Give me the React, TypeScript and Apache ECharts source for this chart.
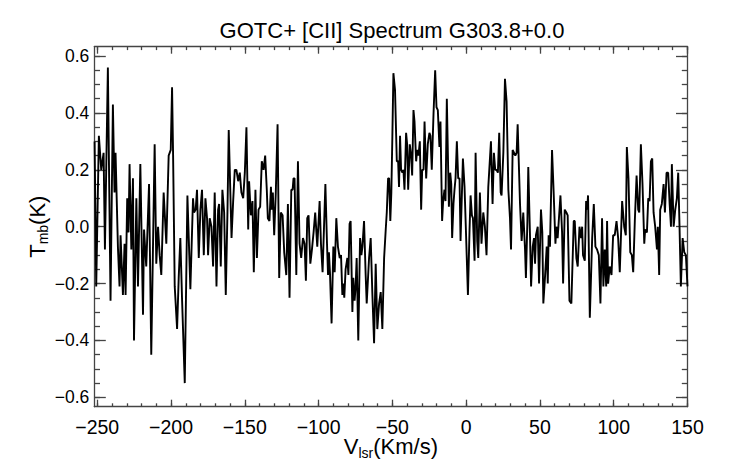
import React, { useEffect, useRef } from "react";
import * as echarts from "echarts";

const titleText = "GOTC+ [CII] Spectrum G303.8+0.0";

// LSR velocity (km/s) of each plotted channel vertex
const velocity = [
  -251.8, -250.7, -248.9, -247.3, -245.7, -244.8, -242.8, -241.0, -239.4, -238.3,
  -237.6, -236.0, -234.9, -234.2, -232.6, -231.5, -230.8, -229.7, -228.8, -228.1,
  -226.9, -225.8, -225.1, -223.5, -222.4, -220.8, -219.0, -218.3, -216.8, -214.9,
  -213.4, -211.1, -210.0, -208.8, -207.7, -206.6, -205.0, -203.2, -201.6, -200.2,
  -199.3, -198.6, -197.5, -195.9, -194.8, -193.7, -192.5, -190.7,
  -188.9, -186.9, -185.1, -184.4, -183.3, -182.4, -181.2, -180.1, -179.0, -177.8,
  -176.7, -175.6, -174.9, -173.8, -172.6, -171.5, -170.4, -169.2, -168.1, -167.4,
  -166.3, -165.2, -164.0, -162.9, -161.8, -160.9, -159.0, -157.9, -156.8, -155.7,
  -154.5, -153.4, -152.3, -151.1, -150.0, -148.9, -147.7, -147.1, -145.9, -144.8,
  -143.9, -142.8, -141.8,
  -140.7, -139.6, -138.5, -137.3, -136.2, -135.1, -134.4, -133.3, -132.3, -131.7,
  -131.0, -130.1, -129.0, -127.8, -126.7, -125.6, -124.4, -123.3, -121.9, -120.8,
  -119.7, -118.5, -117.6, -117.0, -116.3, -115.1, -114.0, -112.9, -111.8, -110.6,
  -109.5, -108.6, -107.7, -106.8, -105.6, -104.5, -103.4, -102.3, -100.9, -99.3,
  -98.4, -97.3, -95.4, -94.3, -93.6, -93.0,
  -92.3, -91.2, -90.0, -89.1, -88.0, -86.9, -85.7, -84.8, -83.9, -83.2,
  -82.6, -81.7, -80.5, -79.8, -79.0, -78.3, -77.1, -76.5, -75.6, -74.9,
  -74.2, -73.1, -71.9, -71.0, -70.3, -69.2, -68.1, -67.4, -65.8, -64.7,
  -63.6, -62.4, -61.3, -60.2, -59.0, -57.9, -56.8, -55.6, -54.5, -53.8,
  -52.9, -52.2, -51.4, -50.7, -50.0, -49.3, -48.2, -47.0, -46.1, -45.5,
  -44.8, -44.1, -43.2, -42.5,
  -41.8, -40.7, -40.0, -39.3, -38.2, -37.3, -36.6, -35.7, -35.0, -33.9,
  -33.2, -32.3, -31.4, -30.5, -29.8, -28.9, -28.2, -27.1, -26.0, -24.9,
  -24.2, -23.3, -22.1, -21.0, -20.1, -19.2, -18.1, -17.4, -16.3, -15.6,
  -14.7, -14.0, -13.1, -11.7, -10.8, -10.1, -9.5, -8.6, -7.9, -7.2,
  -6.3, -5.4, -4.5, -3.8, -2.2, -1.1, 0.0, 1.2, 2.3, 3.0,
  3.9, 4.6, 5.7, 6.4,
  7.5, 8.2, 9.3, 10.4, 11.6, 12.7, 13.8, 15.0, 16.8, 17.9,
  18.8, 19.7, 20.6, 21.5, 22.4, 23.4, 24.0, 25.2, 26.3, 27.4,
  28.6, 29.7, 30.4, 31.5, 32.4, 33.3, 34.2, 34.9, 36.5, 37.6,
  38.7, 39.9, 40.5, 41.5, 42.1, 43.3, 44.0, 45.1, 46.0, 46.7,
  47.3, 48.5, 49.4, 50.7, 51.6, 52.3, 53.4, 54.6, 55.3,
  55.9, 56.8, 58.2, 59.3, 60.5, 61.1, 62.0, 63.9, 65.0, 65.7,
  66.8, 67.9, 68.8, 70.0, 71.3, 72.9, 73.6, 74.7, 75.6, 76.8,
  77.9, 78.6, 79.2, 80.4, 81.3, 82.0, 82.6, 83.8, 85.4, 86.5,
  87.6, 88.7, 89.9, 91.0, 92.1, 93.0, 93.9, 94.9, 95.5, 96.2,
  97.3, 98.5, 99.6, 100.7, 101.9, 103.0, 104.1,
  105.7, 107.1, 108.2, 108.9, 110.0, 111.2, 112.3, 113.2, 114.3, 115.5,
  116.6, 117.3, 118.4, 119.5, 120.7, 121.3, 122.5, 123.4, 124.3, 125.2,
  126.1, 127.0, 128.1, 129.3, 129.9, 130.8, 131.5, 132.6, 133.8, 134.7,
  135.8, 136.9, 137.9, 138.8, 139.4, 140.6, 141.7, 142.8, 143.7, 144.6,
  145.5, 146.7, 147.8, 148.9, 150.0,
];

// Main-beam temperature (K)
const tmb = [
  0.30, -0.21, 0.32, 0.20, 0.26, -0.08, 0.56, -0.26, 0.43, 0.12,
  0.26, -0.07, -0.21, -0.03, -0.24, -0.06, -0.24, 0.10, -0.02, 0.22,
  -0.08, 0.17, -0.40, 0.10, -0.21, 0.22, -0.31, -0.01, -0.14, 0.15,
  -0.45, 0.29, -0.13, 0.00, -0.10, -0.17, 0.12, -0.06, 0.25, 0.27,
  0.49, 0.25, -0.21, -0.36, -0.18, -0.04, -0.26, -0.55,
  0.11, -0.22, 0.10, 0.05, 0.06, 0.13, -0.11, 0.06, 0.13, -0.10,
  0.10, 0.03, -0.10, 0.03, 0.00, -0.14, 0.12, -0.21, 0.06, 0.08,
  -0.14, 0.13, 0.05, -0.24, 0.04, 0.34, -0.04, 0.09, 0.20, 0.20,
  0.16, 0.19, 0.12, 0.10, 0.19, 0.35, -0.01, 0.16, 0.04, 0.09,
  -0.16, 0.13, -0.11,
  0.06, 0.07, 0.23, 0.20, 0.25, 0.13, 0.03, 0.02, 0.14, 0.06,
  0.12, -0.03, 0.12, 0.36, -0.18, 0.05, 0.04, -0.09, -0.17, 0.08,
  -0.25, 0.13, 0.13, 0.17, 0.17, -0.17, 0.23, -0.06, -0.11, -0.04,
  -0.06, -0.19, 0.03, 0.04, -0.13, -0.08, -0.02, 0.05, -0.07, 0.09,
  -0.06, -0.16, 0.15, -0.06, -0.17, -0.09,
  -0.16, -0.34, -0.07, -0.16, 0.03, -0.07, -0.11, -0.10, -0.24, -0.20,
  -0.25, -0.15, -0.11, -0.17, 0.01, 0.02, -0.30, -0.18, -0.26, -0.21,
  -0.11, -0.40, -0.04, -0.10, -0.07, 0.02, -0.17, -0.27, -0.11, -0.04,
  -0.23, -0.41, -0.13, -0.36, -0.27, -0.23, -0.36, -0.11, -0.01, 0.05,
  0.17, 0.17, 0.02, 0.12, 0.32, 0.54, 0.48, 0.23, 0.23, 0.14,
  0.32, 0.20, 0.19, 0.20,
  0.13, 0.33, 0.29, 0.13, 0.29, 0.25, 0.18, 0.41, 0.37, 0.23,
  0.27, 0.25, 0.30, 0.06, 0.20, 0.20, 0.37, 0.17, 0.29, 0.33,
  0.32, 0.20, 0.40, 0.55, 0.42, 0.41, 0.28, 0.37, 0.02, 0.09,
  0.13, 0.09, 0.45, 0.07, 0.19, 0.15, -0.04, 0.08, 0.13, 0.17,
  0.30, 0.17, 0.17, -0.05, 0.24, 0.14, -0.04, -0.24, -0.01, 0.11,
  0.04, 0.03, -0.12, 0.26,
  -0.05, -0.11, 0.12, -0.06, 0.05, 0.00, -0.10, 0.14, 0.30, 0.08,
  0.26, 0.20, 0.20, 0.19, 0.33, 0.12, 0.11, 0.26, 0.52, 0.44,
  0.13, 0.03, -0.08, 0.27, 0.26, 0.25, 0.26, 0.36, 0.08, -0.05,
  0.05, -0.08, -0.18, 0.02, 0.21, -0.04, -0.21, -0.07, -0.04, -0.13,
  -0.03, 0.00, -0.20, 0.06, -0.02, -0.27, -0.18, -0.07, -0.20,
  -0.03, -0.07, 0.27, 0.12, -0.06, 0.00, -0.04, 0.11, -0.02, -0.20,
  0.06, 0.05, 0.04, -0.26, -0.27, 0.02, 0.02, -0.11, -0.14, 0.00,
  -0.04, 0.00, -0.10, -0.12, 0.09, 0.06, 0.11, -0.32, -0.04, 0.08,
  -0.07, -0.08, -0.10, -0.27, 0.03, -0.21, -0.08, -0.21, 0.02, -0.20,
  -0.14, -0.17, -0.03, -0.03, 0.02, -0.04, -0.16,
  0.09, 0.00, -0.03, 0.28, 0.17, -0.09, -0.10, -0.16, 0.02, 0.18,
  0.06, 0.05, 0.29, 0.15, -0.06, -0.01, -0.02, 0.10, 0.09, 0.23,
  0.24, 0.05, 0.00, -0.08, 0.00, -0.17, 0.06, 0.08, 0.15, 0.05,
  0.19, 0.19, 0.08, 0.00, 0.22, 0.00, 0.06, 0.10, 0.19, 0.00,
  -0.21, -0.04, -0.09, -0.10, -0.21,
];

const xMajorTicks = [-250, -200, -150, -100, -50, 0, 50, 100, 150];
const xMinorTicks = [
  -250, -240, -230, -220, -210, -200, -190, -180, -170, -160,
  -150, -140, -130, -120, -110, -100, -90, -80, -70, -60,
  -50, -40, -30, -20, -10, 0, 10, 20, 30, 40,
  50, 60, 70, 80, 90, 100, 110, 120, 130, 140, 150,
];
const yMajorTicks = [-0.6, -0.4, -0.2, 0, 0.2, 0.4, 0.6];
const yMinorTicks = [
  -0.6, -0.55, -0.5, -0.45, -0.4, -0.35, -0.3, -0.25, -0.2, -0.15, -0.1, -0.05,
  0, 0.05, 0.1, 0.15, 0.2, 0.25, 0.3, 0.35, 0.4, 0.45, 0.5, 0.55, 0.6,
];

const X_MIN = -252;
const X_MAX = 150;
const Y_MIN = -0.633;
const Y_MAX = 0.633;

const FONT = "'Liberation Sans', Arial, Helvetica, sans-serif";
const AXIS_COLOR = "#444";

const minus = (s: string) => s.replace("-", "\u2212");

const nameRich = {
  m: { fontSize: 22, fontFamily: FONT, color: "#000", lineHeight: 24, verticalAlign: "top" },
  s: { fontSize: 14, fontFamily: FONT, color: "#000", lineHeight: 15, padding: [11, 0, 0, 0], verticalAlign: "bottom" },
};

export default function App() {
  const ref = useRef<HTMLDivElement>(null);

  useEffect(() => {
    if (!ref.current) return;
    const chart = echarts.init(ref.current, undefined, { renderer: "svg" });
    const n = Math.min(velocity.length, tmb.length);
    const data: number[][] = [];
    for (let i = 0; i < n; i++) data.push([velocity[i], tmb[i]]);

    const lineStyle = { color: AXIS_COLOR, width: 1.3 };
    const hiddenX = {
      type: "value",
      min: X_MIN,
      max: X_MAX,
      splitLine: { show: false },
      axisLabel: { show: false },
      axisLine: { show: false, onZero: false },
    };
    const hiddenY = {
      type: "value",
      min: Y_MIN,
      max: Y_MAX,
      splitLine: { show: false },
      axisLabel: { show: false },
      axisLine: { show: false, onZero: false },
    };

    const option: any = {
      animation: false,
      backgroundColor: "#fff",
      grid: {
        left: 94.3,
        right: 54.5,
        top: 46.7,
        bottom: 57.3,
        containLabel: false,
        outerBoundsMode: "none",
      },
      graphic: [
        {
          type: "text",
          x: 392,
          y: 30.5,
          style: {
            text: titleText,
            fill: "#000",
            font: `22px ${FONT}`,
            align: "center",
            verticalAlign: "middle",
          },
        },
      ],
      xAxis: [
        {
          type: "value",
          min: X_MIN,
          max: X_MAX,
          position: "bottom",
          splitLine: { show: false },
          axisLine: { show: true, onZero: false, lineStyle },
          axisTick: { show: true, inside: true, length: 7, customValues: xMajorTicks, lineStyle },
          axisLabel: {
            show: true,
            customValues: xMajorTicks,
            formatter: (v: number) => minus(String(Math.round(v))),
            fontSize: 19.5,
            lineHeight: 17,
            fontFamily: FONT,
            color: "#000",
            margin: 12,
          },
          name: "{m|V}{s|lsr}{m|(Km/s)}",
          nameLocation: "middle",
          nameGap: 29,
          nameMoveOverlap: false,
          nameTextStyle: { color: "#000", fontFamily: FONT, fontSize: 22, rich: nameRich },
        },
        {
          ...hiddenX,
          position: "bottom",
          axisTick: { show: true, inside: true, length: 3.4, customValues: xMinorTicks, lineStyle },
        },
        {
          ...hiddenX,
          position: "top",
          axisLine: { show: true, onZero: false, lineStyle },
          axisTick: { show: true, inside: true, length: 7, customValues: xMajorTicks, lineStyle },
        },
        {
          ...hiddenX,
          position: "top",
          axisTick: { show: true, inside: true, length: 3.4, customValues: xMinorTicks, lineStyle },
        },
      ],
      yAxis: [
        {
          type: "value",
          min: Y_MIN,
          max: Y_MAX,
          position: "left",
          splitLine: { show: false },
          axisLine: { show: true, onZero: false, lineStyle },
          axisTick: { show: true, inside: true, length: 11.5, customValues: yMajorTicks, lineStyle },
          axisLabel: {
            show: true,
            customValues: yMajorTicks,
            formatter: (v: number) => minus(v.toFixed(1)),
            fontSize: 17.5,
            fontFamily: FONT,
            color: "#000",
            margin: 5,
          },
          name: "{m|T}{s|mb}{m|(K)}",
          nameLocation: "middle",
          nameRotate: 90,
          nameGap: 44,
          nameMoveOverlap: false,
          nameTextStyle: { color: "#000", fontFamily: FONT, fontSize: 22, rich: nameRich },
        },
        {
          ...hiddenY,
          position: "left",
          axisTick: { show: true, inside: true, length: 5.7, customValues: yMinorTicks, lineStyle },
        },
        {
          ...hiddenY,
          position: "right",
          axisLine: { show: true, onZero: false, lineStyle },
          axisTick: { show: true, inside: true, length: 11.5, customValues: yMajorTicks, lineStyle },
        },
        {
          ...hiddenY,
          position: "right",
          axisTick: { show: true, inside: true, length: 5.7, customValues: yMinorTicks, lineStyle },
        },
      ],
      series: [
        {
          type: "line",
          xAxisIndex: 0,
          yAxisIndex: 0,
          data,
          showSymbol: false,
          symbol: "none",
          clip: true,
          lineStyle: { color: "#000", width: 1.9 },
          z: 1,
        },
      ],
    };

    chart.setOption(option);
    return () => chart.dispose();
  }, []);

  return (
    <div
      ref={ref}
      style={{ position: "fixed", left: 0, top: 0, width: 742, height: 464, background: "#fff" }}
    />
  );
}
